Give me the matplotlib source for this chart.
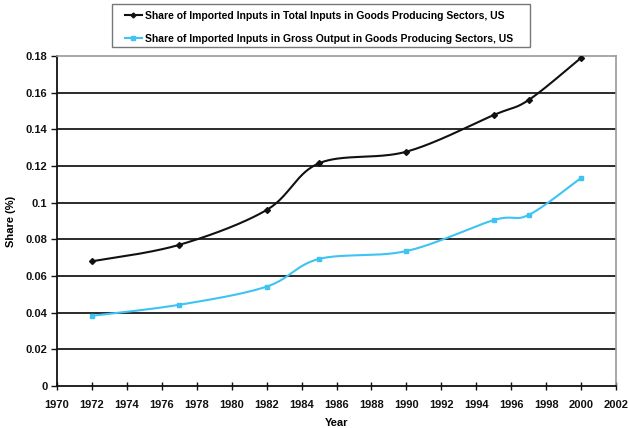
import numpy as np
import matplotlib
matplotlib.use("Agg")
import matplotlib.pyplot as plt
from matplotlib.lines import Line2D
from matplotlib.patches import Rectangle

plt.rcParams['font.family'] = ['Liberation Sans', 'DejaVu Sans']

years = [1972, 1977, 1982, 1985, 1990, 1995, 1997, 2000]
total_inputs = [0.068, 0.077, 0.096, 0.1215, 0.1278, 0.1478, 0.156, 0.1790]
gross_output = [0.0383, 0.0443, 0.0542, 0.0693, 0.0736, 0.0905, 0.0933, 0.1135]
label_total = "Share of Imported Inputs in Total Inputs in Goods Producing Sectors, US"
label_gross = "Share of Imported Inputs in Gross Output in Goods Producing Sectors, US"
xticks = list(range(1970, 2003, 2))
yticks = [0, 0.02, 0.04, 0.06, 0.08, 0.1, 0.12, 0.14, 0.16, 0.18]
yticklabels = ["0", "0.02", "0.04", "0.06", "0.08", "0.1", "0.12", "0.14", "0.16", "0.18"]


def smooth(x, y, sx=1/32.0, sy=1/0.18, n=40):
    # Excel-like smoothing: cubic Bezier with Catmull-Rom control points (in scaled space)
    P = np.column_stack([np.asarray(x, float) * sx, np.asarray(y, float) * sy])
    out = [P[0]]
    for i in range(len(P) - 1):
        p0 = P[i - 1] if i > 0 else P[i]
        p1 = P[i]
        p2 = P[i + 1]
        p3 = P[i + 2] if i + 2 < len(P) else P[i + 1]
        c1 = p1 + (p2 - p0) / 6.0
        c2 = p2 - (p3 - p1) / 6.0
        t = np.linspace(0, 1, n)[1:, None]
        B = ((1 - t) ** 3) * p1 + 3 * ((1 - t) ** 2) * t * c1 + 3 * (1 - t) * t ** 2 * c2 + t ** 3 * p2
        out.extend(B)
    out = np.array(out)
    return out[:, 0] / sx, out[:, 1] / sy


W, H = 629, 428
fig = plt.figure(figsize=(6.29, 4.28), dpi=100)
ax = fig.add_axes([57 / W, 1 - 386 / H, (616 - 57) / W, (386 - 56) / H])

c_black = "#111111"
c_cyan = "#3ec3f2"

sx, sy = smooth(years, total_inputs)
ax.plot(sx, sy, color=c_black, lw=1.5, zorder=3)
ax.plot(years, total_inputs, linestyle='none', marker='D', ms=3, color=c_black, zorder=4)
gx, gy = smooth(years, gross_output)
ax.plot(gx, gy, color=c_cyan, lw=1.5, zorder=3)
ax.plot(years, gross_output, linestyle='none', marker='s', ms=3.5, color=c_cyan, zorder=4)

ax.set_xlim(1970, 2002)
ax.set_ylim(0, 0.18)
ax.set_xticks(xticks)
ax.set_yticks(yticks)
ax.set_yticklabels(yticklabels)
for yv in yticks[1:-1]:
    ax.axhline(yv, color="#1a1a1a", lw=1.3, zorder=1)

for s in ['top', 'right']:
    ax.spines[s].set_color('#999999')
    ax.spines[s].set_linewidth(1.2)
for s in ['left', 'bottom']:
    ax.spines[s].set_color('#111111')
    ax.spines[s].set_linewidth(1.3)

ax.tick_params(axis='both', labelsize=8, colors='#111111', length=4, width=1)
ax.tick_params(axis='x', direction='inout', length=6, pad=7)
ax.tick_params(axis='y', direction='out', pad=3)
for lab in ax.get_xticklabels() + ax.get_yticklabels():
    lab.set_fontweight('bold')

ax.set_xlabel("Year", fontsize=8, fontweight='bold', labelpad=6)
ax.set_ylabel("Share (%)", fontsize=8, fontweight='bold')
ax.yaxis.set_label_coords((16 - 57) / (616 - 57), 0.5)

handles = [Line2D([], [], color=c_black, lw=1.5, marker='D', ms=2.5),
           Line2D([], [], color=c_cyan, lw=1.5, marker='s', ms=3)]
leg = fig.legend(handles, [label_total, label_gross], loc='upper left',
                 bbox_to_anchor=(125 / W, 1 - 11 / H), frameon=False,
                 handlelength=1.6, handletextpad=0.3,
                 borderpad=0, labelspacing=1.2, borderaxespad=0,
                 prop={'weight': 'bold', 'size': 7.5})
fig.patches.append(Rectangle((112 / W, 1 - 47 / H), 418 / W, 43 / H,
                             transform=fig.transFigure, fill=False,
                             edgecolor='#777777', linewidth=1.0))

fig.savefig("out.png", dpi=100)
